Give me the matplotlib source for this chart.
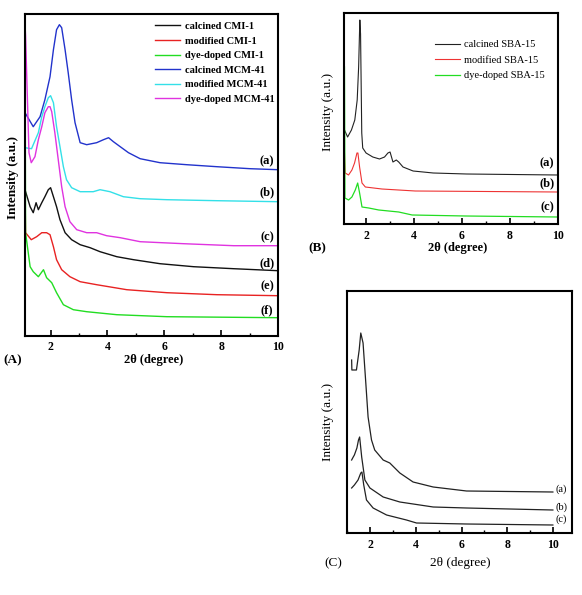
import matplotlib
matplotlib.use("Agg")
import matplotlib.pyplot as plt
from matplotlib.ticker import MultipleLocator

plt.rcParams['font.family'] = ['Liberation Serif', 'DejaVu Serif']
plt.rcParams['font.weight'] = 'bold'

# ---------------- Panel A data ----------------
a_legend = ["calcined CMI-1", "modified CMI-1", "dye-doped CMI-1",
            "calcined MCM-41", "modified MCM-41", "dye-doped MCM-41"]
a_tags = ["(a)", "(b)", "(c)", "(d)", "(e)", "(f)"]

calc_mcm_x = [1.1, 1.39, 1.63, 1.8, 1.98, 2.1, 2.21, 2.31, 2.39, 2.51, 2.62, 2.74, 2.86, 3.04, 3.27,
              3.62, 3.86, 4.04, 4.21, 4.45, 4.74, 5.15, 5.85, 6.79, 7.85, 9.02, 10]
calc_mcm_y = [223, 209, 219, 236, 259, 286, 306, 311, 308, 286, 263, 236, 213, 193, 191,
              193, 196, 198, 194, 189, 183, 177, 173, 171, 169, 167, 166]

mod_mcm_x = [1.1, 1.33, 1.57, 1.69, 1.8, 1.92, 2.0, 2.1, 2.21, 2.33, 2.45, 2.56, 2.74, 3.04, 3.5,
             3.74, 4.09, 4.56, 5.15, 6.09, 7.85, 10]
mod_mcm_y = [188, 187, 203, 219, 229, 238, 240, 233, 209, 189, 169, 156, 148, 144, 144,
             146, 144, 139, 137, 136, 135, 134]

dye_mcm_x = [1.1, 1.12, 1.24, 1.32, 1.45, 1.57, 1.69, 1.8, 1.92, 1.98, 2.04, 2.15, 2.27, 2.39, 2.51,
             2.68, 2.92, 3.27, 3.62, 3.97, 4.45, 5.15, 6.68, 8.44, 10]
dye_mcm_y = [311, 300, 183, 173, 179, 196, 209, 223, 229, 229, 224, 203, 176, 149, 129,
             114, 106, 103, 103, 100, 98, 94, 92, 90, 90]

calc_cmi_x = [1.1, 1.28, 1.39, 1.49, 1.57, 1.69, 1.8, 1.92, 2.0, 2.1, 2.21, 2.33, 2.51, 2.74, 3.04,
              3.39, 3.74, 4.33, 4.92, 5.85, 7.03, 8.44, 10]
calc_cmi_y = [146, 129, 123, 133, 126, 133, 139, 146, 148, 139, 129, 116, 103, 96, 91,
              88, 84, 79, 76, 72, 69, 67, 65]

mod_cmi_x = [1.1, 1.12, 1.32, 1.51, 1.69, 1.86, 1.98, 2.1, 2.21, 2.39, 2.68, 3.04, 3.62, 4.68,
             6.09, 7.85, 10]
mod_cmi_y = [146, 103, 96, 99, 103, 103, 101, 89, 76, 66, 59, 54, 51, 46, 43, 41, 40]

dye_cmi_x = [1.1, 1.12, 1.28, 1.39, 1.57, 1.75, 1.86, 2.04, 2.21, 2.45, 2.8, 3.27, 4.33, 6.09, 10]
dye_cmi_y = [321, 103, 69, 64, 59, 66, 58, 53, 43, 31, 26, 24, 21, 19, 18]

# ---------------- Panel B data ----------------
b_legend = ["calcined SBA-15", "modified SBA-15", "dye-doped SBA-15"]
b_tags = ["(a)", "(b)", "(c)"]

calc_sba_x = [1.1, 1.23, 1.39, 1.53, 1.63, 1.69, 1.74, 1.77, 1.82, 1.86, 2.0, 2.28, 2.56, 2.77,
              2.91, 3.0, 3.12, 3.26, 3.36, 3.54, 3.96, 4.8, 6.19, 10]
calc_sba_y = [94, 87, 94, 104, 124, 157, 204, 190, 91, 76, 71, 67, 65, 67,
              71, 72, 62, 64, 62, 57, 53, 51, 50, 49]

mod_sba_x = [1.1, 1.13, 1.27, 1.41, 1.52, 1.62, 1.66, 1.73, 1.83, 1.97, 2.66, 4.05, 10]
mod_sba_y = [71, 51, 49, 54, 61, 71, 71, 57, 41, 37, 35, 33, 32]

dye_sba_x = [1.1, 1.12, 1.27, 1.41, 1.55, 1.65, 1.73, 1.83, 2.11, 2.53, 3.36, 3.92, 6.15, 10]
dye_sba_y = [157, 26, 24, 27, 34, 41, 31, 17, 16, 14, 12, 9, 8, 7]

# ---------------- Panel C data ----------------
c_tags = ["(a)", "(b)", "(c)"]

c_a_x = [1.19, 1.2, 1.4, 1.52, 1.59, 1.69, 1.81, 1.91, 2.06, 2.2, 2.57, 2.86, 3.3, 3.88, 4.76, 6.22, 10]
c_a_y = [173, 163, 163, 183, 200, 190, 150, 116, 93, 83, 73, 70, 60, 51, 46, 42, 41]

c_b_x = [1.19, 1.26, 1.31, 1.42, 1.49, 1.54, 1.63, 1.77, 1.99, 2.57, 3.3, 4.76, 6.22, 10]
c_b_y = [73, 76, 78, 85, 93, 96, 76, 53, 45, 36, 31, 26, 25, 23]

c_c_x = [1.19, 1.31, 1.47, 1.59, 1.64, 1.72, 1.84, 2.13, 2.72, 3.59, 4.03, 6.22, 10]
c_c_y = [45, 48, 53, 60, 61, 48, 33, 25, 18, 13, 10, 9, 8]

W, H = 582, 595
fig = plt.figure(figsize=(W / 100, H / 100), dpi=100)


def axes_px(l, t, r, b):
    return fig.add_axes([l / W, 1 - b / H, (r - l) / W, (b - t) / H])


def ftext(px, py, s, **kw):
    fig.text(px / W, 1 - py / H, s, ha='center', va='center', **kw)


def style(ax, xlim, ylim):
    ax.set_xlim(*xlim)
    ax.set_ylim(*ylim)
    ax.set_yticks([])
    ax.xaxis.set_major_locator(MultipleLocator(2))
    ax.xaxis.set_minor_locator(MultipleLocator(1))
    ax.tick_params(axis='x', which='major', direction='in', length=4, width=1.2,
                   labelsize=8.5, pad=4)
    ax.tick_params(axis='x', which='minor', direction='in', length=2, width=1.0)
    for lab in ax.get_xticklabels():
        lab.set_fontweight('bold')
    for sp in ax.spines.values():
        sp.set_linewidth(1.5)


# ---------------- Panel A ----------------
axA = axes_px(25, 14, 278, 335.7)
style(axA, (1.1, 10), (0, 321.7))
lw = 1.0
axA.plot(calc_cmi_x, calc_cmi_y, color='#111111', lw=lw, label=a_legend[0])
axA.plot(mod_cmi_x, mod_cmi_y, color='#e82222', lw=lw, label=a_legend[1])
axA.plot(dye_cmi_x, dye_cmi_y, color='#22dd22', lw=lw, label=a_legend[2])
axA.plot(calc_mcm_x, calc_mcm_y, color='#2233cc', lw=lw, label=a_legend[3])
axA.plot(mod_mcm_x, mod_mcm_y, color='#33e0e8', lw=lw, label=a_legend[4])
axA.plot(dye_mcm_x, dye_mcm_y, color='#e033e0', lw=lw, label=a_legend[5])
axA.legend(loc='upper left', bbox_to_anchor=(0.514, 0.976), frameon=False,
           handlelength=2.4, handletextpad=0.5, labelspacing=0.51,
           borderpad=0, borderaxespad=0, prop={'weight': 'bold', 'size': 7.5})
for tag, py in zip(a_tags, [161, 192, 237, 263, 286, 310]):
    ftext(267, py, tag, fontsize=9, fontweight='bold')
ftext(13, 177, "Intensity (a.u.)", fontsize=9.5, fontweight='bold', rotation=90)
ftext(154, 360, "2θ (degree)", fontsize=9, fontweight='bold')
ftext(13, 360, "(A)", fontsize=9.5, fontweight='bold')

# ---------------- Panel B ----------------
axB = axes_px(344, 13, 558, 224)
style(axB, (1.08, 10), (0, 211))
axB.plot(calc_sba_x, calc_sba_y, color='#222222', lw=0.8, label=b_legend[0])
axB.plot(mod_sba_x, mod_sba_y, color='#ee3333', lw=0.8, label=b_legend[1])
axB.plot(dye_sba_x, dye_sba_y, color='#22dd22', lw=0.9, label=b_legend[2])
axB.legend(loc='upper left', bbox_to_anchor=(0.425, 0.872), frameon=False,
           handlelength=2.4, handletextpad=0.35, labelspacing=0.6,
           borderpad=0, borderaxespad=0, prop={'weight': 'normal', 'size': 7.5})
for tag, py in zip(b_tags, [163, 183, 207]):
    ftext(547, py, tag, fontsize=9, fontweight='bold')
ftext(328, 112, "Intensity (a.u.)", fontsize=9.5, fontweight='normal', rotation=90)
ftext(458, 248, "2θ (degree)", fontsize=9, fontweight='bold')
ftext(317, 248, "(B)", fontsize=9.5, fontweight='bold')

# ---------------- Panel C ----------------
axC = axes_px(347.3, 290.7, 572.3, 533)
style(axC, (1.0, 10.85), (0, 242.3))
for xs, ys in [(c_a_x, c_a_y), (c_b_x, c_b_y), (c_c_x, c_c_y)]:
    axC.plot(xs, ys, color='#222222', lw=0.9)
for tag, py in zip(c_tags, [489, 507, 519]):
    ftext(561, py, tag, fontsize=7.5, fontweight='normal')
ftext(328, 422, "Intensity (a.u.)", fontsize=9.5, fontweight='normal', rotation=90)
ftext(460, 563, "2θ (degree)", fontsize=9.5, fontweight='normal')
ftext(333, 563, "(C)", fontsize=9.5, fontweight='normal')

fig.savefig("out.png", dpi=100)
